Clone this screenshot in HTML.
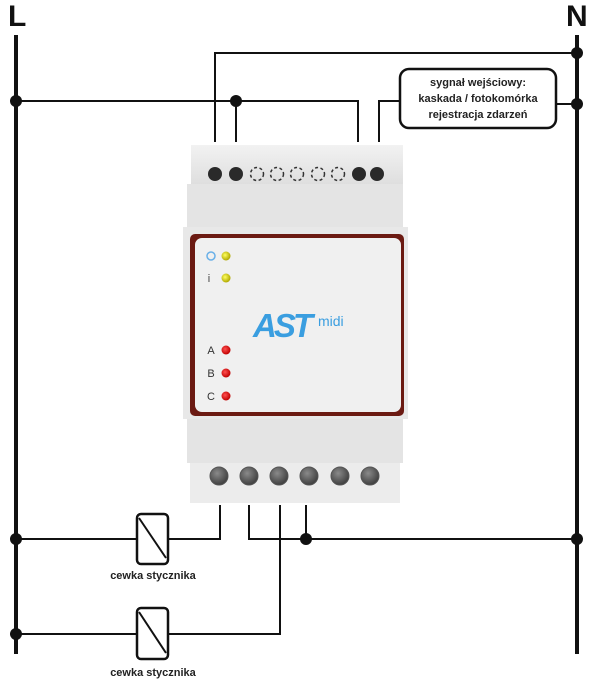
<!DOCTYPE html>
<html><head><meta charset="utf-8"><style>
body{margin:0;background:#fff;}
svg{display:block}
</style></head><body>
<svg width="600" height="699" viewBox="0 0 600 699" xmlns="http://www.w3.org/2000/svg" font-family="'Liberation Sans', sans-serif">
<defs>
<linearGradient id="g1" x1="0" y1="0" x2="0" y2="1"><stop offset="0" stop-color="#f2f2f2"/><stop offset="1" stop-color="#dedede"/></linearGradient>
<radialGradient id="scr" cx="0.4" cy="0.35" r="0.7"><stop offset="0" stop-color="#8a8a8a"/><stop offset="1" stop-color="#3a3a3a"/></radialGradient>
<radialGradient id="yl" cx="0.4" cy="0.4" r="0.6"><stop offset="0" stop-color="#ffff60"/><stop offset="1" stop-color="#b0a800"/></radialGradient>
<radialGradient id="rd" cx="0.4" cy="0.4" r="0.6"><stop offset="0" stop-color="#ff5050"/><stop offset="1" stop-color="#c00000"/></radialGradient>
</defs>
<text x="8" y="26" font-size="30" font-weight="bold" fill="#111">L</text>
<text x="566" y="26" font-size="30" font-weight="bold" fill="#111">N</text>
<line x1="16" y1="35" x2="16" y2="654" stroke="#111" stroke-width="4"/>
<line x1="577" y1="35" x2="577" y2="654" stroke="#111" stroke-width="4"/>
<g stroke="#111" stroke-width="2" fill="none">
<polyline points="215,142 215,53 577,53"/>
<polyline points="16,101 358,101 358,142"/>
<line x1="236" y1="101" x2="236" y2="142"/>
<polyline points="400,101 379,101 379,142"/>
<line x1="556" y1="104" x2="577" y2="104"/>
<polyline points="16,539 137,539"/>
<polyline points="168,539 220,539 220,505"/>
<polyline points="249,505 249,539 577,539"/>
<line x1="306" y1="505" x2="306" y2="539"/>
<polyline points="280,505 280,634 168,634"/>
<line x1="16" y1="634" x2="137" y2="634"/>
<rect x="400" y="69" width="156" height="59" rx="9" stroke-width="2.5"/>
<rect x="137" y="514" width="31" height="50" rx="4" stroke-width="2.5"/>
<line x1="139" y1="518" x2="166" y2="558"/>
<rect x="137" y="608" width="31" height="51" rx="4" stroke-width="2.5"/>
<line x1="139" y1="612" x2="166" y2="653"/>
</g>
<g fill="#111">
<circle cx="577" cy="53" r="6"/><circle cx="16" cy="101" r="6"/><circle cx="236" cy="101" r="6"/>
<circle cx="577" cy="104" r="6"/><circle cx="16" cy="539" r="6"/><circle cx="306" cy="539" r="6"/>
<circle cx="577" cy="539" r="6"/><circle cx="16" cy="634" r="6"/>
</g>
<g font-size="11" font-weight="bold" fill="#222" text-anchor="middle">
<text x="478" y="86">sygnał wejściowy:</text>
<text x="478" y="102">kaskada / fotokomórka</text>
<text x="478" y="118">rejestracja zdarzeń</text>
<text x="153" y="579">cewka stycznika</text>
<text x="153" y="676">cewka stycznika</text>
</g>
<rect x="191" y="145" width="212" height="40" fill="url(#g1)"/>
<g fill="#2a2a2a"><circle cx="215" cy="174" r="7"/><circle cx="236" cy="174" r="7"/><circle cx="359" cy="174" r="7"/><circle cx="377" cy="174" r="7"/></g>
<g fill="none" stroke="#333" stroke-width="1.5" stroke-dasharray="3,2.5"><circle cx="257" cy="174" r="6.5"/><circle cx="277" cy="174" r="6.5"/><circle cx="297" cy="174" r="6.5"/><circle cx="318" cy="174" r="6.5"/><circle cx="338" cy="174" r="6.5"/></g>
<rect x="187" y="184" width="216" height="44" fill="#e4e4e4"/>
<rect x="183" y="227" width="225" height="192" fill="#e8e8e8"/>
<rect x="190" y="234" width="214" height="182" rx="5" fill="#6b1a12"/>
<rect x="195" y="238" width="206" height="174" rx="7" fill="#f0f0f0"/>
<rect x="187" y="419" width="216" height="44" fill="#e4e4e4"/>
<rect x="190" y="463" width="210" height="40" fill="#ececec"/>
<g fill="url(#scr)" stroke="#555" stroke-width="1"><circle cx="219" cy="476" r="9"/><circle cx="249" cy="476" r="9"/><circle cx="279" cy="476" r="9"/><circle cx="309" cy="476" r="9"/><circle cx="340" cy="476" r="9"/><circle cx="370" cy="476" r="9"/></g>
<circle cx="211" cy="256" r="4" fill="none" stroke="#6ab0e8" stroke-width="1.5"/>
<circle cx="226" cy="256" r="4.5" fill="url(#yl)"/>
<circle cx="226" cy="278" r="4.5" fill="url(#yl)"/>
<text x="209" y="282" font-size="11" fill="#444" text-anchor="middle">i</text>
<g fill="url(#rd)"><circle cx="226" cy="350" r="4.5"/><circle cx="226" cy="373" r="4.5"/><circle cx="226" cy="396" r="4.5"/></g>
<g font-size="11" fill="#333" text-anchor="middle"><text x="211" y="354">A</text><text x="211" y="377">B</text><text x="211" y="400">C</text></g>
<text x="253" y="337" font-size="33" font-weight="bold" font-style="italic" fill="#3a9ee0" letter-spacing="-3">AST</text>
<text x="318" y="326" font-size="14" fill="#3a9ee0">midi</text>
</svg>
</body></html>
